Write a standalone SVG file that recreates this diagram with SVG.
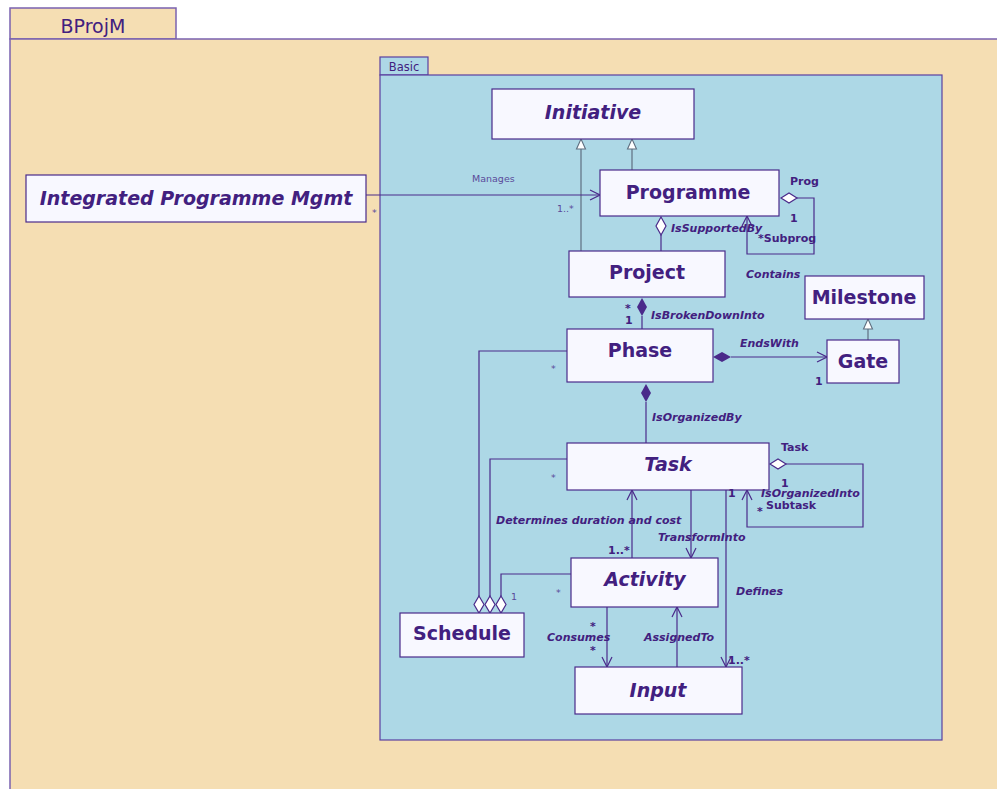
<svg xmlns="http://www.w3.org/2000/svg" width="997" height="789" viewBox="0 0 997 789">
<defs>
<style>
.pkg{fill:#F5DEB3;stroke:#7a62b0;stroke-width:1.5}
.pkg2{fill:#ADD8E6;stroke:#5a40a0;stroke-width:1.2}
.node{fill:#F8F8FF;stroke:#4a2a8a;stroke-width:1.2}
.ln{fill:none;stroke:#4a2a8a;stroke-width:1.2}
.gl{fill:none;stroke:#5f6f80;stroke-width:1.2}
.t{font-family:"DejaVu Sans",Verdana,sans-serif;fill:#42207f}
.nm{font-size:19px;font-weight:bold;text-anchor:middle}
.it{font-style:italic}
.lb{font-size:11px;font-weight:bold;font-style:italic}
.rl{font-size:11px;font-weight:bold}
.sm{font-size:9.5px;fill:#5a4a9a}
</style>
<marker id="open" viewBox="0 0 12 12" refX="11" refY="6" markerWidth="12" markerHeight="12" markerUnits="userSpaceOnUse" orient="auto"><path d="M1,1 L11,6 L1,11" fill="none" stroke="#4a2a8a" stroke-width="1.2"/></marker>
<marker id="gen" viewBox="0 0 12 12" refX="11" refY="6" markerWidth="12" markerHeight="12" markerUnits="userSpaceOnUse" orient="auto"><path d="M1,1.5 L11,6 L1,10.5 Z" fill="#ffffff" stroke="#5f6f80" stroke-width="1.1"/></marker>
</defs>

<g id="pkg-BProjM">
<rect class="pkg" x="10" y="8" width="166" height="31"/>
<rect class="pkg" x="10" y="39" width="1000" height="760"/>
<text class="t" x="93" y="33" font-size="19" text-anchor="middle">BProjM</text>
</g>

<g id="pkg-Basic">
<rect class="pkg2" x="380" y="57" width="48" height="18"/>
<rect class="pkg2" x="380" y="75" width="562" height="665"/>
<text class="t" x="404" y="71" font-size="11.5" text-anchor="middle">Basic</text>
</g>

<g id="connectors">
<line class="gl" x1="581" y1="251" x2="581" y2="139" marker-end="url(#gen)"/>
<line class="gl" x1="632" y1="170" x2="632" y2="139" marker-end="url(#gen)"/>
<line class="gl" x1="868" y1="340" x2="868" y2="319" marker-end="url(#gen)"/>
<line class="ln" x1="366" y1="195" x2="600" y2="195" marker-end="url(#open)"/>
<path class="ln" d="M781,198 L789,193 L797,198 L789,203 Z" style="fill:#fff"/>
<polyline class="ln" points="797,198 814,198 814,254 747,254 747,216" marker-end="url(#open)"/>
<path class="ln" d="M661,217 L666,226 L661,235 L656,226 Z" style="fill:#fff"/>
<line class="ln" x1="661" y1="235" x2="661" y2="251"/>
<path d="M642,298 L647,307 L642,316 L637,307 Z" fill="#4a2a8a"/>
<line class="ln" x1="642" y1="316" x2="642" y2="329"/>
<path d="M713,357 L722,352 L731,357 L722,362 Z" fill="#4a2a8a"/>
<line class="ln" x1="731" y1="357" x2="827" y2="357" marker-end="url(#open)"/>
<path d="M646,384 L651,393 L646,402 L641,393 Z" fill="#4a2a8a"/>
<line class="ln" x1="646" y1="402" x2="646" y2="443"/>
<path class="ln" d="M770,464 L778,459 L786,464 L778,469 Z" style="fill:#fff"/>
<polyline class="ln" points="786,464 863,464 863,527 747,527 747,490" marker-end="url(#open)"/>
<line class="ln" x1="632" y1="558" x2="632" y2="490" marker-end="url(#open)"/>
<line class="ln" x1="691" y1="490" x2="691" y2="558" marker-end="url(#open)"/>
<line class="ln" x1="726" y1="490" x2="726" y2="667" marker-end="url(#open)"/>
<line class="ln" x1="607" y1="607" x2="607" y2="667" marker-end="url(#open)"/>
<line class="ln" x1="677" y1="667" x2="677" y2="607" marker-end="url(#open)"/>
<polyline class="ln" points="479,596 479,351 567,351"/>
<polyline class="ln" points="490,596 490,459 567,459"/>
<polyline class="ln" points="501,596 501,574 571,574"/>
<path class="ln" d="M479,596 L484,604.5 L479,613 L474,604.5 Z" style="fill:#fff"/>
<path class="ln" d="M490,596 L495,604.5 L490,613 L485,604.5 Z" style="fill:#fff"/>
<path class="ln" d="M501,596 L506,604.5 L501,613 L496,604.5 Z" style="fill:#fff"/>
</g>

<g id="node-Initiative"><rect class="node" x="492" y="89" width="202" height="50"/><text class="t nm it" x="593" y="119">Initiative</text></g>
<g id="node-IntegratedProgrammeMgmt"><rect class="node" x="26" y="175" width="340" height="47"/><text class="t nm it" x="196" y="205">Integrated Programme Mgmt</text></g>
<g id="node-Programme"><rect class="node" x="600" y="170" width="179" height="46"/><text class="t nm" x="688" y="199">Programme</text></g>
<g id="node-Project"><rect class="node" x="569" y="251" width="156" height="46"/><text class="t nm" x="647" y="279">Project</text></g>
<g id="node-Milestone"><rect class="node" x="805" y="276" width="119" height="43"/><text class="t nm" x="864" y="304">Milestone</text></g>
<g id="node-Phase"><rect class="node" x="567" y="329" width="146" height="53"/><text class="t nm" x="640" y="357">Phase</text></g>
<g id="node-Gate"><rect class="node" x="827" y="340" width="72" height="43"/><text class="t nm" x="863" y="368">Gate</text></g>
<g id="node-Task"><rect class="node" x="567" y="443" width="202" height="47"/><text class="t nm it" x="668" y="471">Task</text></g>
<g id="node-Activity"><rect class="node" x="571" y="558" width="147" height="49"/><text class="t nm it" x="645" y="586">Activity</text></g>
<g id="node-Schedule"><rect class="node" x="400" y="613" width="124" height="44"/><text class="t nm" x="462" y="640">Schedule</text></g>
<g id="node-Input"><rect class="node" x="575" y="667" width="167" height="47"/><text class="t nm it" x="658" y="697">Input</text></g>

<g id="labels">
<text class="t sm" x="472" y="182">Manages</text>
<text class="t sm" x="372" y="216">*</text>
<text class="t sm" x="557" y="212">1..*</text>
<text class="t rl" x="790" y="185">Prog</text>
<text class="t rl" x="790" y="222">1</text>
<text class="t rl" x="758" y="242">*Subprog</text>
<text class="t lb" x="671" y="232">IsSupportedBy</text>
<text class="t lb" x="746" y="278">Contains</text>
<text class="t rl" x="625" y="312">*</text>
<text class="t rl" x="625" y="324">1</text>
<text class="t lb" x="651" y="319">IsBrokenDownInto</text>
<text class="t lb" x="740" y="347">EndsWith</text>
<text class="t rl" x="815" y="385">1</text>
<text class="t sm" x="551" y="372">*</text>
<text class="t lb" x="652" y="421">IsOrganizedBy</text>
<text class="t rl" x="781" y="451">Task</text>
<text class="t rl" x="781" y="487">1</text>
<text class="t lb" x="761" y="497">IsOrganizedInto</text>
<text class="t rl" x="766" y="509">Subtask</text>
<text class="t rl" x="757" y="515">*</text>
<text class="t rl" x="728" y="497">1</text>
<text class="t sm" x="551" y="481">*</text>
<text class="t lb" x="496" y="524">Determines duration and cost</text>
<text class="t lb" x="658" y="541">TransformInto</text>
<text class="t rl" x="608" y="554">1..*</text>
<text class="t lb" x="736" y="595">Defines</text>
<text class="t sm" x="556" y="596">*</text>
<text class="t sm" x="511" y="600">1</text>
<text class="t rl" x="590" y="630">*</text>
<text class="t lb" x="547" y="641">Consumes</text>
<text class="t rl" x="590" y="654">*</text>
<text class="t lb" x="644" y="641">AssignedTo</text>
<text class="t rl" x="728" y="664">1..*</text>
</g>
</svg>
